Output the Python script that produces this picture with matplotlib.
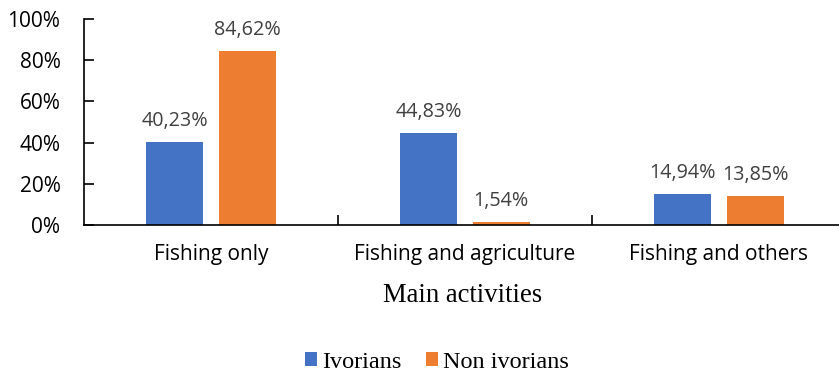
import matplotlib
matplotlib.use("Agg")
import matplotlib.pyplot as plt
import numpy as np
from matplotlib.ticker import PercentFormatter, FixedLocator

categories = ["Fishing only", "Fishing and agriculture", "Fishing and others"]
ivorians = [40.23, 44.83, 14.94]
non_ivorians = [84.62, 1.54, 13.85]
series_names = ["Ivorians", "Non ivorians"]
y_ticks = [0, 20, 40, 60, 80, 100]

BLUE = "#4472C4"
ORANGE = "#ED7D31"
LABEL_GREY = "#404040"
SANS = ["Open Sans", "DejaVu Sans"]
SERIF = ["Liberation Serif", "DejaVu Serif"]

W, H = 839, 375
fig = plt.figure(figsize=(W / 100, H / 100), dpi=100)
ax = fig.add_axes([84 / W, 150 / H, 762 / W, 206 / H])

x = np.arange(len(categories))
bw = 0.224
off = 0.142
b1 = ax.bar(x - off, ivorians, bw, color=BLUE, label=series_names[0])
b2 = ax.bar(x + off, non_ivorians, bw, color=ORANGE, label=series_names[1])

for bars, vals in ((b1, ivorians), (b2, non_ivorians)):
    for rect, v in zip(bars, vals):
        ax.annotate(f"{v:.2f}%".replace(".", ","),
                    (rect.get_x() + rect.get_width() / 2, v),
                    xytext=(0, 8), textcoords="offset points",
                    ha="center", va="bottom", fontsize=14.2,
                    color=LABEL_GREY, family=SANS)

ax.set_xlim(-0.5, 2.5)
ax.set_ylim(0, 100)
ax.set_yticks(y_ticks)
ax.yaxis.set_major_formatter(PercentFormatter(decimals=0))
ax.set_xticks(x)
ax.set_xticklabels(categories)
ax.xaxis.set_minor_locator(FixedLocator([0.5, 1.5]))

for s in ("top", "right"):
    ax.spines[s].set_visible(False)
for s in ("left", "bottom"):
    ax.spines[s].set_color("black")
    ax.spines[s].set_linewidth(1.2)

ax.tick_params(axis="y", direction="in", length=7, width=1.2, pad=17,
               labelsize=15)
ax.tick_params(axis="x", which="major", length=0, pad=14, labelsize=15)
ax.tick_params(axis="x", which="minor", direction="in", length=7, width=1.2)
for lab in ax.get_yticklabels() + ax.get_xticklabels():
    lab.set_family(SANS)
    lab.set_color("#000000")

fig.text(463 / W, 1 - 296 / H, "Main activities", ha="center", va="center",
         fontsize=19.2, family=SERIF)

fig.legend(handles=[b1, b2], loc="center", bbox_to_anchor=(437 / W, 1 - 362 / H),
           ncol=2, frameon=False, prop={"family": SERIF, "size": 17.5},
           handlelength=0.5, handleheight=0.5, handletextpad=0.2,
           columnspacing=1.0)

fig.savefig("out.png", dpi=100)
